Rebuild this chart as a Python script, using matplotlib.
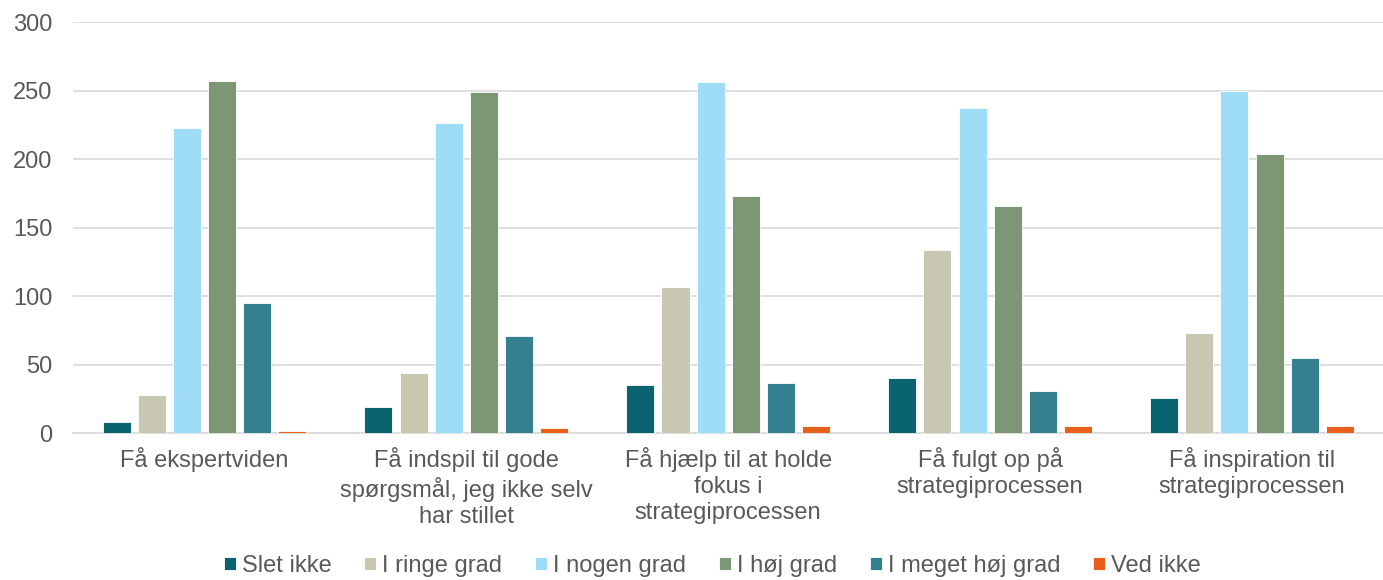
import numpy as np
import matplotlib.pyplot as plt

plt.rcParams['font.family'] = ['Liberation Sans', 'DejaVu Sans']

# Data
categories = [
    "Få ekspertviden",
    "Få indspil til gode\nspørgsmål, jeg ikke selv\nhar stillet",
    "Få hjælp til at holde\nfokus i\nstrategiprocessen",
    "Få fulgt op på\nstrategiprocessen",
    "Få inspiration til\nstrategiprocessen",
]
series_names = ["Slet ikke", "I ringe grad", "I nogen grad", "I høj grad", "I meget høj grad", "Ved ikke"]
slet_ikke = [8, 19, 35, 40, 26]
i_ringe_grad = [28, 44, 107, 134, 73]
i_nogen_grad = [223, 226, 256, 237, 250]
i_hoej_grad = [257, 249, 173, 166, 204]
i_meget_hoej_grad = [95, 71, 37, 31, 55]
ved_ikke = [2, 4, 5, 5, 5]
yticks = [0, 50, 100, 150, 200, 250, 300]

series = [slet_ikke, i_ringe_grad, i_nogen_grad, i_hoej_grad, i_meget_hoej_grad, ved_ikke]
colors = ['#0a6470', '#c8c8b2', '#9fdcf6', '#7c9676', '#358090', '#e8601a']

fig = plt.figure(figsize=(13.83, 5.8), dpi=100)
ax = fig.add_axes([0.053, 0.253, 0.947, 0.709])

x = np.arange(len(categories))
step = 0.134
width = 0.107
for i, (vals, name, c) in enumerate(zip(series, series_names, colors)):
    offs = (i - 2.5) * step
    ax.bar(x + offs, vals, width, color=c, label=name, edgecolor='white', linewidth=0.6, zorder=3)

ax.set_xlim(-0.5, len(categories) - 0.5)
ax.set_ylim(0, 300)
ax.set_yticks(yticks)
ax.set_xticks(x)
ax.set_xticklabels(categories, linespacing=1.23)
ax.grid(axis='y', color='#d9d9d9', linewidth=1.2, zorder=0)
for s in ['top', 'right', 'left']:
    ax.spines[s].set_visible(False)
ax.spines['bottom'].set_color('#d9d9d9')
ax.spines['bottom'].set_linewidth(1.2)
ax.tick_params(axis='both', length=0, labelsize=17, colors='#595959')
ax.tick_params(axis='x', pad=10)
ax.tick_params(axis='y', pad=15)

fig.legend(loc='center', bbox_to_anchor=(0.515, 0.024), ncol=6, frameon=False,
           fontsize=17, labelcolor='#595959', handlelength=0.5, handleheight=0.5,
           handletextpad=0.25, columnspacing=1.4)

fig.savefig('out.png', dpi=100)
